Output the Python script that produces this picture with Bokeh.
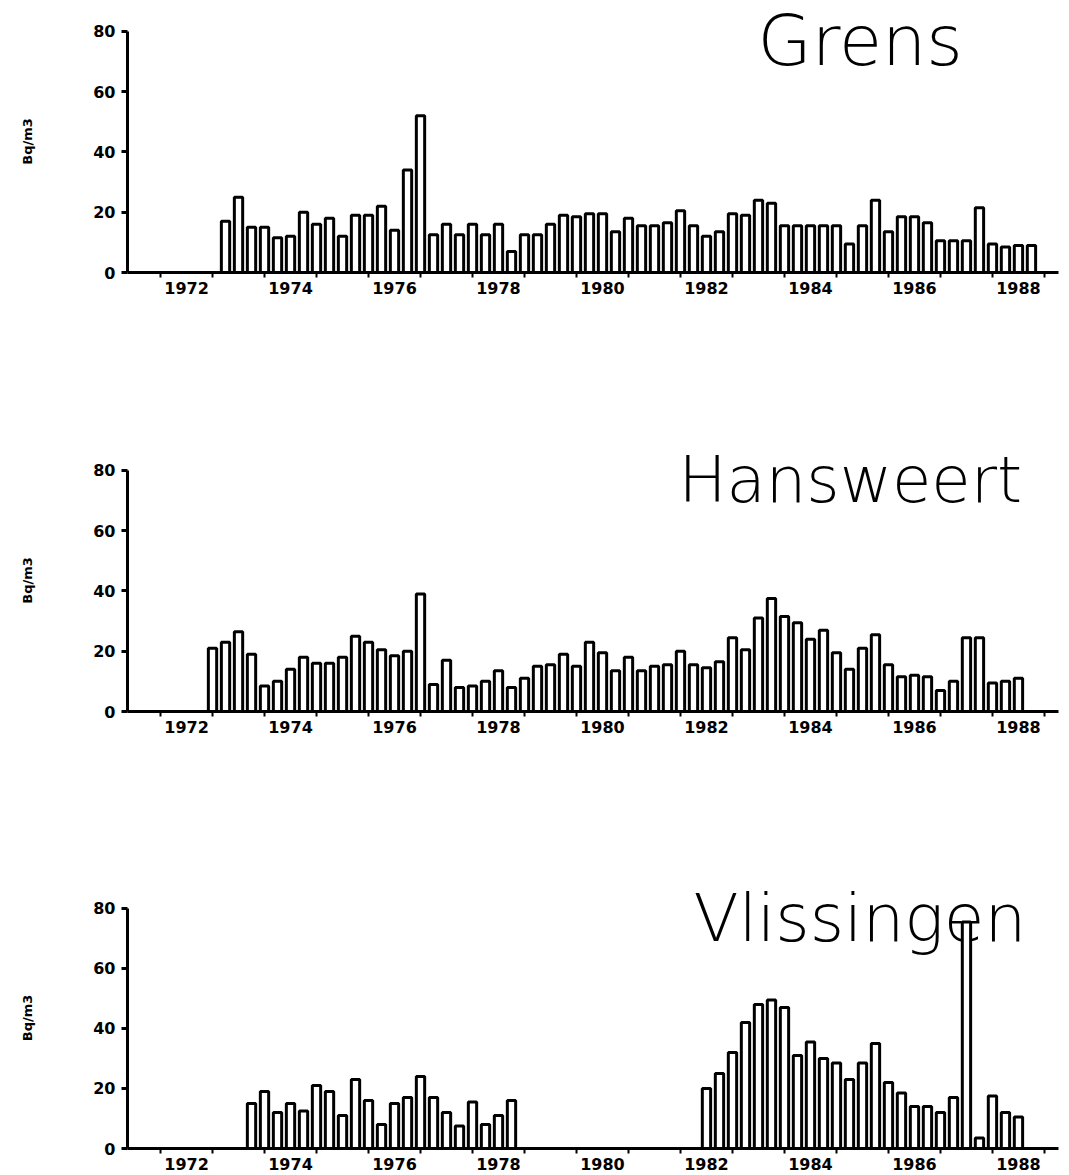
from bokeh.plotting import figure
from bokeh.models import FixedTicker, Range1d
from bokeh.layouts import column
from bokeh.embed import file_html
from bokeh.resources import INLINE
from bokeh.core.properties import value

# ---------------- data (quarterly values, Bq/m3) ----------------
quarter = 0.25

grens_start = 1973.25
grens_values = [17, 25, 15, 15, 11.5, 12, 20, 16, 18, 12,
                19, 19, 22, 14, 34, 52, 12.5, 16, 12.5, 16,
                12.5, 16, 7, 12.5, 12.5, 16, 19, 18.5, 19.5, 19.5,
                13.5, 18, 15.5, 15.5, 16.5, 20.5, 15.5, 12, 13.5, 19.5,
                19, 24, 23, 15.5, 15.5, 15.5, 15.5, 15.5, 9.5, 15.5,
                24, 13.5, 18.5, 18.5, 16.5, 10.5, 10.5, 10.5, 21.5, 9.5,
                8.5, 9, 9]

hansweert_start = 1973.0
hansweert_values = [21, 23, 26.5, 19, 8.5, 10, 14, 18, 16, 16,
                    18, 25, 23, 20.5, 18.5, 20, 39, 9, 17, 8,
                    8.5, 10, 13.5, 8, 11, 15, 15.5, 19, 15, 23,
                    19.5, 13.5, 18, 13.5, 15, 15.5, 20, 15.5, 14.5, 16.5,
                    24.5, 20.5, 31, 37.5, 31.5, 29.5, 24, 27, 19.5, 14,
                    21, 25.5, 15.5, 11.5, 12, 11.5, 7, 10, 24.5, 24.5,
                    9.5, 10, 11]

vlissingen_start_a = 1973.75
vlissingen_values_a = [15, 19, 12, 15, 12.5, 21, 19, 11, 23, 16,
                       8, 15, 17, 24, 17, 12, 7.5, 15.5, 8, 11, 16]
vlissingen_start_b = 1982.5
vlissingen_values_b = [20, 25, 32, 42, 48, 49.5, 47, 31, 35.5, 30,
                       28.5, 23, 28.5, 35, 22, 18.5, 14, 14, 12, 17,
                       75.5, 3.5, 17.5, 12, 10.5]

label_years = [1972, 1974, 1976, 1978, 1980, 1982, 1984, 1986, 1988]
year_ticks = list(range(1972, 1990))
y_ticks = [0, 20, 40, 60, 80]
y_label = "Bq/m3"

# ---------------- styling ----------------
X_START, X_END = 1971.365, 1989.27
Y_AXIS_MAX = 80
Y_FRAME_TOP = 86.97          # frame extends a little above 80 so titles are not clipped
TICK_FONT = "DejaVu Sans"
TITLE_FONT = "DejaVu Sans Light"


def make_panel(title, segments, title_x, title_size, height, border_bottom):
    p = figure(width=1061, height=height,
               x_range=Range1d(X_START, X_END), y_range=Range1d(0, Y_FRAME_TOP),
               output_backend="svg", toolbar_location=None,
               min_border_left=127, min_border_right=3,
               min_border_top=10, min_border_bottom=border_bottom,
               background_fill_color="white", border_fill_color="white")
    p.grid.visible = False
    p.outline_line_color = None

    # station name (drawn first so the bars paint over it)
    p.text(x=[title_x], y=[76.7], text=[title],
           text_font=value(TITLE_FONT), text_font_size=title_size,
           text_color="black", text_baseline="alphabetic", text_align="left")

    for start, vals in segments:
        xs = [start + quarter * i for i in range(len(vals))]
        p.vbar(x=xs, top=vals, bottom=0, width=0.16,
               fill_color="white", line_color="black", line_width=3)

    # x axis: unlabeled tick marks at each year, labels centred in the year
    xa = p.xaxis[0]
    xa.ticker = FixedTicker(ticks=[y + 0.5 for y in label_years],
                            minor_ticks=year_ticks)
    xa.major_label_overrides = {y + 0.5: str(y) for y in label_years}
    xa.major_tick_out = 0
    xa.major_tick_in = 0
    xa.major_tick_line_color = None
    xa.minor_tick_out = 5
    xa.minor_tick_in = 0
    xa.minor_tick_line_width = 2
    xa.minor_tick_line_color = "black"
    xa.axis_line_width = 3
    xa.axis_line_color = "black"
    xa.major_label_text_font = TICK_FONT
    xa.major_label_text_font_style = "bold"
    xa.major_label_text_font_size = "16px"
    xa.major_label_text_color = "black"
    xa.major_label_standoff = 4

    ya = p.yaxis[0]
    ya.bounds = (0, Y_AXIS_MAX)
    ya.ticker = FixedTicker(ticks=y_ticks, minor_ticks=[])
    ya.major_tick_out = 6
    ya.major_tick_in = 0
    ya.major_tick_line_width = 3
    ya.major_tick_line_color = "black"
    ya.minor_tick_line_color = None
    ya.axis_line_width = 3
    ya.axis_line_color = "black"
    ya.major_label_text_font = TICK_FONT
    ya.major_label_text_font_style = "bold"
    ya.major_label_text_font_size = "16px"
    ya.major_label_text_color = "black"
    ya.major_label_standoff = 6
    ya.axis_label = y_label
    ya.axis_label_text_font = TICK_FONT
    ya.axis_label_text_font_style = "bold"
    ya.axis_label_text_font_size = "13px"
    ya.axis_label_text_color = "black"
    ya.axis_label_standoff = 55
    return p


p1 = make_panel("Grens", [(grens_start, grens_values)], 1983.48, "70px", 439, 167)
p2 = make_panel("Hansweert", [(hansweert_start, hansweert_values)], 1981.96, "64px", 438, 166)
p3 = make_panel("Vlissingen", [(vlissingen_start_a, vlissingen_values_a),
                               (vlissingen_start_b, vlissingen_values_b)],
                1982.25, "66px", 295, 23)

layout = column(p1, p2, p3, spacing=0)
open("out.html", "w").write(file_html(layout, INLINE))
